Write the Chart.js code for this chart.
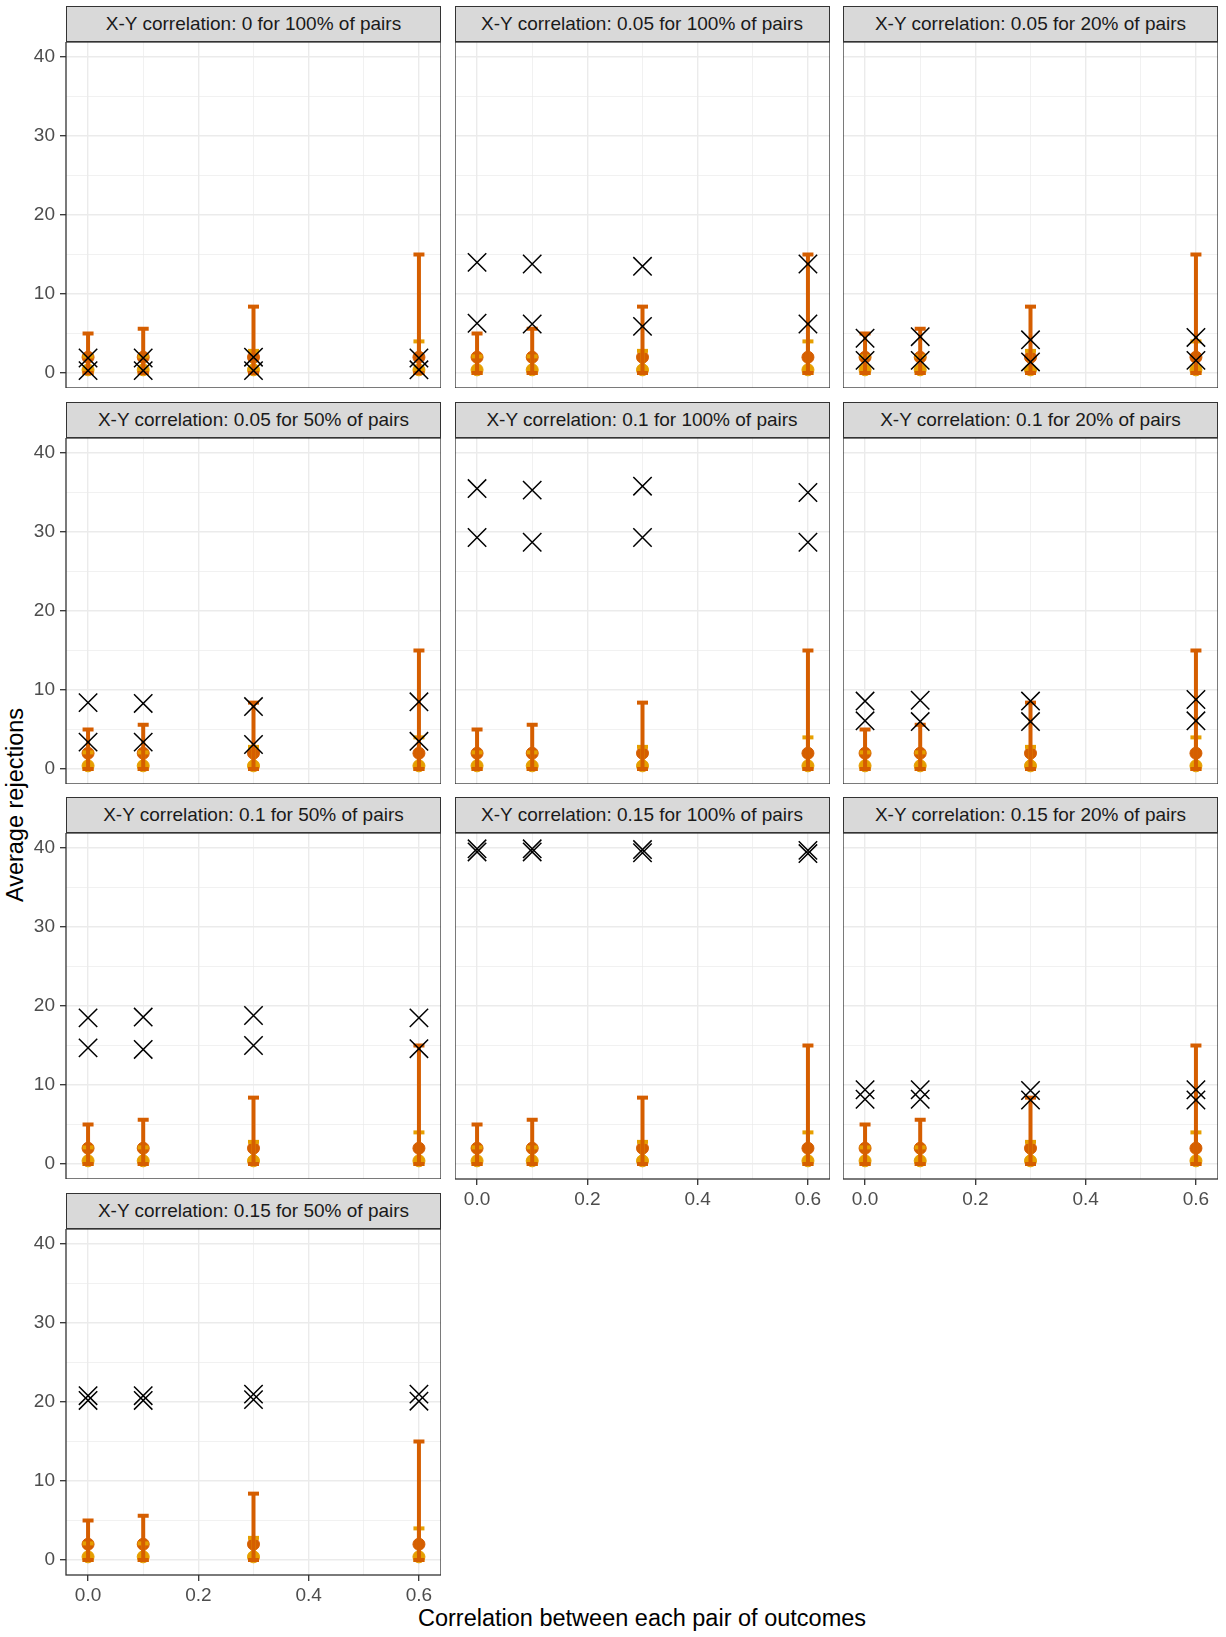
<!DOCTYPE html>
<html>
<head>
<meta charset="utf-8">
<script src="https://cdn.jsdelivr.net/npm/chart.js@4.4.1/dist/chart.umd.min.js"></script>
<style>
  body { margin: 0; background: #fff; }
  #page { position: relative; width: 1226px; height: 1637px; overflow: hidden;
          font-family: "Liberation Sans", Arial, Helvetica, sans-serif; }
  .strip { position: absolute; box-sizing: border-box; width: 375px; height: 36px;
           background: #d9d9d9; border: 1.3px solid #333; color: #1a1a1a;
           font-size: 19px; line-height: 33px; text-align: center; white-space: nowrap; }
  canvas { position: absolute; }
  .axis-title { position: absolute; font-size: 23.5px; color: #000; white-space: nowrap; }
  #ytitle { left: 15px; top: 805px; transform: translate(-50%, -50%) rotate(-90deg); }
  #xtitle { left: 642px; top: 1618px; transform: translate(-50%, -50%); }
</style>
</head>
<body>
<div id="page">
  <div class="axis-title" id="ytitle">Average rejections</div>
  <div class="axis-title" id="xtitle">Correlation between each pair of outcomes</div>
</div>
<script>
// correlation between each pair of outcomes (x positions)
const xVals = [0, 0.1, 0.3, 0.6];
const xTicks = [0, 0.1, 0.2, 0.3, 0.4, 0.5, 0.6];
const yTicks = [0, 5, 10, 15, 20, 25, 30, 35, 40];

const panelTitles = [
  "X-Y correlation: 0 for 100% of pairs",
  "X-Y correlation: 0.05 for 100% of pairs",
  "X-Y correlation: 0.05 for 20% of pairs",
  "X-Y correlation: 0.05 for 50% of pairs",
  "X-Y correlation: 0.1 for 100% of pairs",
  "X-Y correlation: 0.1 for 20% of pairs",
  "X-Y correlation: 0.1 for 50% of pairs",
  "X-Y correlation: 0.15 for 100% of pairs",
  "X-Y correlation: 0.15 for 20% of pairs",
  "X-Y correlation: 0.15 for 50% of pairs",
];

// black crosses, one row per panel
const crossUpper = [
  [1.9, 1.9, 2.0, 1.9],
  [14.0, 13.8, 13.5, 13.8],
  [4.4, 4.6, 4.2, 4.5],
  [8.4, 8.3, 7.9, 8.5],
  [35.5, 35.3, 35.8, 35.0],
  [8.6, 8.7, 8.6, 8.8],
  [18.5, 18.6, 18.8, 18.5],
  [39.9, 39.9, 39.8, 39.7],
  [9.4, 9.4, 9.3, 9.4],
  [20.8, 20.8, 21.0, 21.0],
];
const crossLower = [
  [0.3, 0.3, 0.3, 0.4],
  [6.3, 6.2, 5.9, 6.2],
  [1.6, 1.6, 1.4, 1.6],
  [3.4, 3.4, 3.1, 3.5],
  [29.3, 28.7, 29.3, 28.7],
  [6.1, 6.0, 6.0, 6.1],
  [14.7, 14.5, 15.0, 14.6],
  [39.5, 39.5, 39.4, 39.3],
  [8.2, 8.2, 8.1, 8.1],
  [20.2, 20.2, 20.3, 20.1],
];

// dark orange method: point and interval (same in every panel)
const darkPoint = [2.0, 2.0, 2.0, 2.0];
const darkLow = [0, 0, 0, 0];
const darkHigh = [5.0, 5.6, 8.4, 15.0];

// light orange method
const lightPoint = [0.4, 0.4, 0.4, 0.4];
const lightLow = [0, 0, 0, 0];
const lightHigh = [2.1, 2.1, 2.8, 4.0];

const DARK = "#D55E00";
const LIGHT = "#E69F00";

// layout of the facet grid (pixels)
const colLeft = [66, 454.5, 843];
const rowTop = [6, 401.67, 797.33, 1193];
const panelW = 375;
const stripH = 36;
const plotH = 346;
const yAxisW = 66;
const xAxisH = 34;
const xLabelPanels = [7, 8, 9];

Chart.defaults.font.family = '"Liberation Sans", Arial, Helvetica, sans-serif';

function pts(ys) {
  return xVals.map((x, j) => ({ x: x, y: ys[j] }));
}
function segs(lo, hi) {
  const out = [];
  xVals.forEach((x, j) => {
    out.push({ x: x, y: lo[j] }, { x: x, y: hi[j] }, { x: x, y: null });
  });
  return out;
}
function isMajor(v, step) {
  const r = v / step;
  return Math.abs(r - Math.round(r)) < 1e-6;
}
function noPadding(s) {
  s.paddingTop = 0;
  s.paddingBottom = 0;
  s.paddingLeft = 0;
  s.paddingRight = 0;
}

const panelBorder = {
  id: "panelBorder",
  afterDraw(chart) {
    const a = chart.chartArea;
    const ctx = chart.ctx;
    ctx.save();
    ctx.strokeStyle = "#333333";
    ctx.lineWidth = 1.3;
    ctx.strokeRect(a.left, a.top, a.right - a.left, a.bottom - a.top);
    ctx.restore();
  },
};

const page = document.getElementById("page");

panelTitles.forEach((title, i) => {
  const col = i % 3;
  const row = Math.floor(i / 3);
  const showY = col === 0;
  const showX = xLabelPanels.includes(i);

  const strip = document.createElement("div");
  strip.className = "strip";
  strip.style.left = colLeft[col] + "px";
  strip.style.top = rowTop[row] + "px";
  strip.textContent = title;
  page.appendChild(strip);

  const canvas = document.createElement("canvas");
  const w = panelW + (showY ? yAxisW : 0);
  const h = plotH + (showX ? xAxisH : 0);
  canvas.width = w;
  canvas.height = h;
  canvas.style.left = (showY ? colLeft[col] - yAxisW : colLeft[col]) + "px";
  canvas.style.top = rowTop[row] + stripH + "px";
  canvas.style.width = w + "px";
  canvas.style.height = h + "px";
  page.appendChild(canvas);

  new Chart(canvas, {
    type: "scatter",
    data: {
      datasets: [
        {
          data: pts(crossUpper[i]),
          pointStyle: "crossRot",
          pointRadius: 13,
          pointBorderColor: "#000",
          pointBorderWidth: 1.5,
          order: 10,
        },
        {
          data: pts(crossLower[i]),
          pointStyle: "crossRot",
          pointRadius: 13,
          pointBorderColor: "#000",
          pointBorderWidth: 1.5,
          order: 11,
        },
        {
          data: pts(darkHigh).concat(pts(darkLow)),
          pointStyle: "line",
          pointRadius: 5.5,
          pointBorderColor: DARK,
          pointBorderWidth: 4,
          order: 30,
        },
        {
          type: "line",
          data: segs(darkLow, darkHigh),
          borderColor: DARK,
          borderWidth: 4,
          pointRadius: 0,
          spanGaps: false,
          order: 35,
        },
        {
          data: pts(lightHigh).concat(pts(lightLow)),
          pointStyle: "line",
          pointRadius: 5.5,
          pointBorderColor: LIGHT,
          pointBorderWidth: 4,
          order: 40,
        },
        {
          type: "line",
          data: segs(lightLow, lightHigh),
          borderColor: LIGHT,
          borderWidth: 4,
          pointRadius: 0,
          spanGaps: false,
          order: 45,
        },
        {
          data: pts(darkPoint),
          pointRadius: 6,
          pointBackgroundColor: DARK,
          pointBorderColor: DARK,
          pointBorderWidth: 1,
          order: 50,
        },
        {
          data: pts(lightPoint),
          pointRadius: 6,
          pointBackgroundColor: LIGHT,
          pointBorderColor: LIGHT,
          pointBorderWidth: 1,
          order: 60,
        },
      ],
    },
    options: {
      responsive: false,
      animation: false,
      events: [],
      layout: { padding: 0, autoPadding: false },
      plugins: { legend: { display: false }, tooltip: { enabled: false } },
      scales: {
        x: {
          type: "linear",
          min: -0.04,
          max: 0.64,
          afterBuildTicks: (s) => { s.ticks = xTicks.map((v) => ({ value: v })); },
          afterFit: (s) => { s.height = showX ? xAxisH : 0; noPadding(s); },
          border: { display: false },
          grid: {
            color: "#ebebeb",
            lineWidth: (c) => (c.tick && isMajor(c.tick.value, 0.2) ? 1.4 : 0.7),
            drawTicks: showX,
            tickLength: 6,
            tickWidth: 1.3,
            tickColor: (c) => (c.tick && isMajor(c.tick.value, 0.2) ? "#333333" : "rgba(0,0,0,0)"),
          },
          ticks: {
            display: showX,
            padding: 3,
            color: "#4d4d4d",
            font: { size: 19 },
            maxRotation: 0,
            autoSkip: false,
            callback: (v) => (isMajor(v, 0.2) ? v.toFixed(1) : ""),
          },
        },
        y: {
          type: "linear",
          min: -1.9,
          max: 41.9,
          afterBuildTicks: (s) => { s.ticks = yTicks.map((v) => ({ value: v })); },
          afterFit: (s) => { s.width = showY ? yAxisW : 0; noPadding(s); },
          border: { display: false },
          grid: {
            color: "#ebebeb",
            lineWidth: (c) => (c.tick && isMajor(c.tick.value, 10) ? 1.4 : 0.7),
            drawTicks: showY,
            tickLength: 6,
            tickWidth: 1.3,
            tickColor: (c) => (c.tick && isMajor(c.tick.value, 10) ? "#333333" : "rgba(0,0,0,0)"),
          },
          ticks: {
            display: showY,
            padding: 5,
            color: "#4d4d4d",
            font: { size: 19 },
            autoSkip: false,
            callback: (v) => (isMajor(v, 10) ? String(v) : ""),
          },
        },
      },
    },
    plugins: [panelBorder],
  });
});
</script>
</body>
</html>
